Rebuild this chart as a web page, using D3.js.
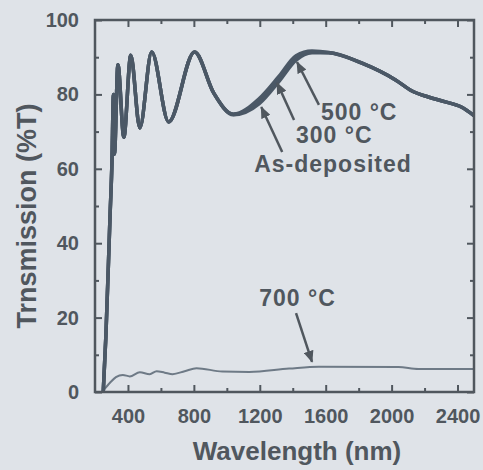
<!DOCTYPE html>
<html>
<head>
<meta charset="utf-8">
<script src="https://cdn.jsdelivr.net/npm/d3@7"></script>
<style>
  html, body { margin: 0; padding: 0; background: #dfe3e8; }
  svg { display: block; font-family: "Liberation Sans", Arial, sans-serif; }
</style>
</head>
<body>
<div id="chart"></div>
<script>
// wavelength (nm) for the three overlapping curves
const wavelength = [250, 266, 291, 303, 312, 318, 339, 375, 417, 472, 544, 647, 804, 920, 1040, 1197, 1317, 1420, 1517, 1620, 1819, 2024, 2121, 2223, 2326, 2423, 2500];
const tAsDeposited = [0, 15, 47, 62, 80, 64, 88, 68.5, 90.5, 71, 91.4, 72.6, 91.4, 80.4, 74.5, 77.5, 83.5, 89.2, 91.2, 91.2, 88.4, 83.9, 81, 79.3, 78, 76.6, 74.3];
const t300 = [0, 15, 47, 62, 80, 64, 88, 68.5, 90.5, 71, 91.4, 72.6, 91.4, 80.4, 74.6, 78.2, 84.2, 89.8, 91.4, 91.2, 88.4, 83.9, 81, 79.3, 78, 76.6, 74.3];
const t500 = [0, 15, 47, 62, 80, 64, 88, 68.5, 90.5, 71, 91.4, 72.6, 91.4, 80.4, 74.7, 78.9, 84.9, 90.4, 91.7, 91.3, 88.5, 83.9, 81, 79.3, 78, 76.6, 74.3];

// 700 °C curve
const wavelength700 = [252, 291, 327, 369, 411, 472, 532, 574, 623, 671, 744, 816, 973, 1136, 1378, 1559, 2042, 2163, 2500];
const t700 = [0.5, 2.5, 4, 4.6, 4.2, 5.3, 4.8, 5.6, 5.2, 4.8, 5.6, 6.4, 5.5, 5.4, 6.3, 6.8, 6.7, 6.2, 6.2];

// axis ticks
const xTicks = [400, 800, 1200, 1600, 2000, 2400];
const yTicks = [0, 20, 40, 60, 80, 100];

// labels with arrows (data coordinates)
const labels = ["500 °C", "300 °C", "As-deposited", "700 °C"];
const labelAt = [[1571, 73.1], [1420, 66.9], [1166, 59.1], [1197, 23.1]];
const arrowFrom = [[1559, 77.2], [1408, 73.1], [1336, 64.5], [1420, 21.2]];
const arrowTo = [[1426, 88.7], [1305, 83.1], [1209, 76.6], [1517, 8.1]];

const width = 483;
const height = 470;
const margin = { top: 20, right: 9, bottom: 78, left: 95 };

const ink = "#50575e";
const lineColor = "#4b5866";

const svg = d3.select("#chart")
  .append("svg")
  .attr("width", width)
  .attr("height", height);

const x = d3.scaleLinear()
  .domain([200, 2500])
  .range([margin.left, width - margin.right]);

const y = d3.scaleLinear()
  .domain([0, 100])
  .range([height - margin.bottom, margin.top]);

svg.append("defs")
  .append("clipPath")
  .attr("id", "clip")
  .append("rect")
  .attr("x", margin.left)
  .attr("y", margin.top)
  .attr("width", x.range()[1] - margin.left)
  .attr("height", y.range()[0] - margin.top);

svg.select("defs")
  .append("marker")
  .attr("id", "head")
  .attr("viewBox", "0 0 12 10")
  .attr("refX", 11)
  .attr("refY", 5)
  .attr("markerWidth", 12)
  .attr("markerHeight", 10)
  .attr("markerUnits", "userSpaceOnUse")
  .attr("orient", "auto")
  .append("path")
  .attr("d", "M0,0L12,5L0,10Z")
  .attr("fill", ink);

/* Curves */
const line = d3.line()
  .x((d) => x(d[0]))
  .y((d) => y(d[1]))
  .curve(d3.curveMonotoneX);

const curves = svg.append("g").attr("clip-path", "url(#clip)");

curves.append("path")
  .attr("d", line(wavelength700.map((w, i) => [w, t700[i]])))
  .attr("fill", "none")
  .attr("stroke", "#6e7a86")
  .attr("stroke-width", 2);

[tAsDeposited, t300, t500].forEach((series) => {
  curves.append("path")
    .attr("d", line(wavelength.map((w, i) => [w, series[i]])))
    .attr("fill", "none")
    .attr("stroke", lineColor)
    .attr("stroke-width", 3.5)
    .attr("stroke-linejoin", "round");
});

/* Axes */
const axisFont = (g) => g
  .attr("font-size", 20)
  .attr("font-weight", "bold")
  .attr("font-family", "'Liberation Sans', Arial, sans-serif");

const styleAxis = (g) => {
  g.select(".domain").remove();
  g.selectAll("line").attr("stroke", ink).attr("stroke-width", 2);
  g.selectAll("text").attr("fill", ink);
};

const x0 = x.range()[0], x1 = x.range()[1];
const y0 = y.range()[0], y1 = y.range()[1];
const minorX = d3.range(600, 2500, 400);
const minorY = d3.range(10, 100, 20);

// bottom
svg.append("g")
  .attr("transform", `translate(0,${y0})`)
  .call(d3.axisBottom(x).tickValues(xTicks).tickSize(-7).tickPadding(17).tickFormat(d3.format("d")))
  .call(axisFont)
  .call(styleAxis);
svg.append("g")
  .attr("transform", `translate(0,${y0})`)
  .call(d3.axisBottom(x).tickValues(minorX).tickSize(-4).tickFormat(""))
  .call(styleAxis);

// top
svg.append("g")
  .attr("transform", `translate(0,${y1})`)
  .call(d3.axisTop(x).tickValues(xTicks).tickSize(-7).tickFormat(""))
  .call(styleAxis);
svg.append("g")
  .attr("transform", `translate(0,${y1})`)
  .call(d3.axisTop(x).tickValues(minorX).tickSize(-4).tickFormat(""))
  .call(styleAxis);

// left
svg.append("g")
  .attr("transform", `translate(${x0},0)`)
  .call(d3.axisLeft(y).tickValues(yTicks).tickSize(-7).tickPadding(16))
  .call(axisFont)
  .call(styleAxis);
svg.append("g")
  .attr("transform", `translate(${x0},0)`)
  .call(d3.axisLeft(y).tickValues(minorY).tickSize(-4).tickFormat(""))
  .call(styleAxis);

// right
svg.append("g")
  .attr("transform", `translate(${x1},0)`)
  .call(d3.axisRight(y).tickValues(yTicks).tickSize(-7).tickFormat(""))
  .call(styleAxis);
svg.append("g")
  .attr("transform", `translate(${x1},0)`)
  .call(d3.axisRight(y).tickValues(minorY).tickSize(-4).tickFormat(""))
  .call(styleAxis);

/* Frame */
svg.append("rect")
  .attr("x", x0)
  .attr("y", y1)
  .attr("width", x1 - x0)
  .attr("height", y0 - y1)
  .attr("fill", "none")
  .attr("stroke", ink)
  .attr("stroke-width", 2.5);

/* Axis titles */
svg.append("text")
  .attr("x", 297)
  .attr("y", 460)
  .attr("text-anchor", "middle")
  .attr("font-size", 26)
  .attr("font-weight", "bold")
  .attr("fill", ink)
  .text("Wavelength (nm)");

svg.append("text")
  .attr("transform", "translate(36,216) rotate(-90)")
  .attr("text-anchor", "middle")
  .attr("font-size", 27)
  .attr("font-weight", "bold")
  .attr("fill", ink)
  .text("Trnsmission (%T)");

/* Annotations */
labels.forEach((label, i) => {
  svg.append("line")
    .attr("x1", x(arrowFrom[i][0]))
    .attr("y1", y(arrowFrom[i][1]))
    .attr("x2", x(arrowTo[i][0]))
    .attr("y2", y(arrowTo[i][1]))
    .attr("stroke", ink)
    .attr("stroke-width", 2.5)
    .attr("marker-end", "url(#head)");

  svg.append("text")
    .attr("x", x(labelAt[i][0]))
    .attr("y", y(labelAt[i][1]))
    .attr("font-size", 23)
    .attr("font-weight", "bold")
    .attr("letter-spacing", 1)
    .attr("fill", ink)
    .text(label);
});
</script>
</body>
</html>
